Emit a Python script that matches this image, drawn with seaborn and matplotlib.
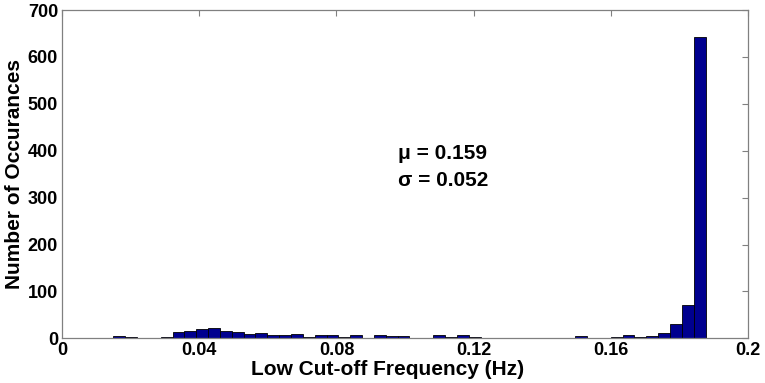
import numpy as np
import matplotlib
matplotlib.use("Agg")
import matplotlib.pyplot as plt
import seaborn as sns

# histogram: 50 equal bins between the data min and max
f_min = 0.0149
f_max = 0.1877
n_bins = 50
counts = [5, 2, 1, 0, 3, 13, 16, 19, 21, 16,
          14, 10, 11, 8, 8, 10, 2, 6, 6, 3,
          6, 1, 6, 4, 5, 1, 1, 6, 2, 7,
          2, 1, 0, 1, 1, 1, 1, 1, 0, 5,
          1, 1, 2, 8, 3, 5, 11, 31, 70, 643]
mu_txt = "\u03bc = 0.159"
sigma_txt = "\u03c3 = 0.052"

x_ticks = [0, 0.04, 0.08, 0.12, 0.16, 0.2]
x_ticklabels = ["0", "0.04", "0.08", "0.12", "0.16", "0.2"]
y_ticks = [0, 100, 200, 300, 400, 500, 600, 700]

edges = np.linspace(f_min, f_max, n_bins + 1)
centers = (edges[:-1] + edges[1:]) / 2

sns.set_style("white")
plt.rcParams['font.family'] = ['Liberation Sans', 'DejaVu Sans']
plt.rcParams['font.weight'] = 'bold'
plt.rcParams['text.color'] = 'black'
plt.rcParams['axes.labelcolor'] = 'black'
plt.rcParams['xtick.color'] = 'black'
plt.rcParams['ytick.color'] = 'black'

fig = plt.figure(figsize=(7.65, 3.83), dpi=100)
ax = fig.add_axes([0.0814, 0.1167, 0.896, 0.857])

sns.histplot(x=centers, weights=counts, bins=n_bins, binrange=(f_min, f_max),
             color="#00008F", edgecolor="black", linewidth=0.6, alpha=1.0, ax=ax)

ax.set_xlim(0, 0.2)
ax.set_ylim(0, 700)
ax.set_xticks(x_ticks)
ax.set_xticklabels(x_ticklabels)
ax.set_yticks(y_ticks)
ax.tick_params(direction="in", length=4, width=0.8, color="#808080",
               labelcolor="black", top=True, right=True, labelsize=13, pad=3)
for lab in ax.get_xticklabels() + ax.get_yticklabels():
    lab.set_fontweight("bold")
for s in ax.spines.values():
    s.set_color("#808080")
    s.set_linewidth(0.9)

ax.set_xlabel("Low Cut-off Frequency (Hz)", fontsize=15, fontweight="bold",
              color="black", labelpad=0)
ax.set_ylabel("Number of Occurances", fontsize=15, fontweight="bold",
              color="black", labelpad=3)
ax.xaxis.set_label_coords(0.475, -0.065)
ax.xaxis.label.set_va("top")

ax.text(0.098, 395, mu_txt, fontsize=15, fontweight="bold", va="center", ha="left", color="black")
ax.text(0.098, 337, sigma_txt, fontsize=15, fontweight="bold", va="center", ha="left", color="black")

plt.savefig("out.png", dpi=100)
